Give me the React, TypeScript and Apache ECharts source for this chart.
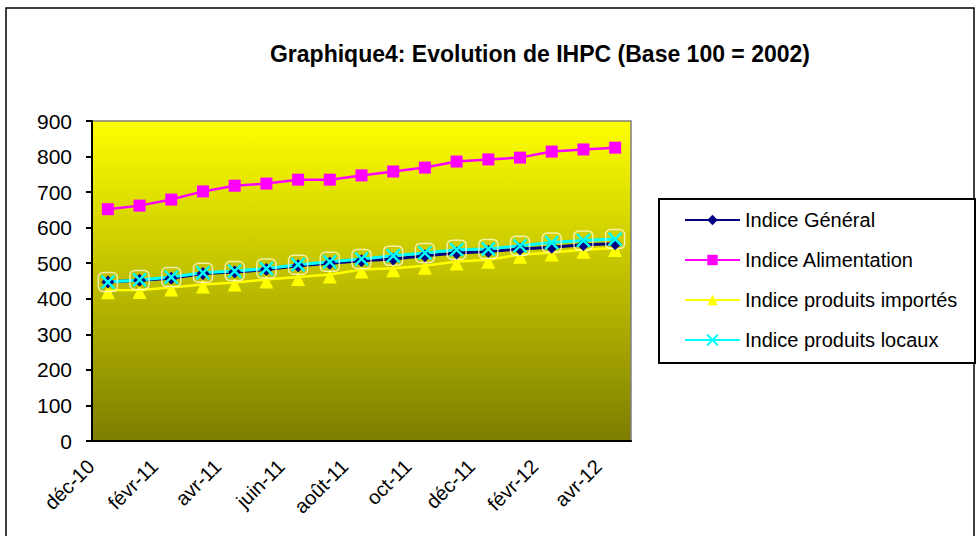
import React, { useEffect, useRef } from "react";
import * as echarts from "echarts";

const categories = [
  "déc-10", "janv-11", "févr-11", "mars-11", "avr-11", "mai-11", "juin-11", "juil-11",
  "août-11", "sept-11", "oct-11", "nov-11", "déc-11", "janv-12", "févr-12", "mars-12", "avr-12",
];
const indiceGeneral = [447, 452, 458, 471, 475, 482, 493, 500, 507, 512, 521, 529, 533, 540, 545, 552, 555];
const indiceAlimentation = [652, 662, 679, 702, 718, 724, 735, 735, 747, 758, 769, 786, 792, 797, 814, 820, 825];
const indiceImportes = [424, 425, 432, 440, 446, 454, 461, 468, 482, 486, 493, 505, 510, 524, 530, 538, 543];
const indiceLocaux = [447, 453, 461, 473, 478, 485, 496, 504, 512, 521, 529, 538, 540, 549, 558, 564, 568];
const yTicks = [0, 100, 200, 300, 400, 500, 600, 700, 800, 900];

const FONT = "'Liberation Sans', Arial, sans-serif";
const CROSS = "path://M0,0L12,12M12,0L0,12";

export default function App() {
  const ref = useRef<HTMLDivElement>(null);
  useEffect(() => {
    if (!ref.current) return;
    const chart = echarts.init(ref.current, null, { renderer: "svg" });
    const names = ["Indice Général", "Indice Alimentation", "Indice produits importés", "Indice produits locaux"];
    chart.setOption({
      animation: false,
      backgroundColor: "#ffffff",
      textStyle: { fontFamily: FONT },
      title: {
        text: "Graphique4: Evolution de IHPC (Base 100 = 2002)",
        left: 535,
        textAlign: "center",
        top: 37,
        textStyle: { fontFamily: FONT, fontSize: 23, fontWeight: "bold", color: "#000" },
      },
      graphic: [
        {
          type: "rect",
          shape: { x: 6, y: 8, width: 968, height: 540 },
          style: { fill: "none", stroke: "#000", lineWidth: 1.5 },
          z: -1,
        },
        {
          type: "rect",
          shape: { x: 659, y: 199, width: 316, height: 164 },
          style: { fill: "#fff", stroke: "#000", lineWidth: 2 },
          z: 0,
        },
      ],
      legend: {
        data: names,
        orient: "vertical",
        left: 684,
        top: 210,
        padding: 0,
        itemWidth: 55,
        itemHeight: 13,
        itemGap: 20,
        textStyle: { fontFamily: FONT, fontSize: 20, color: "#000" },
        z: 5,
      },
      grid: {
        left: 92,
        top: 121,
        width: 539,
        height: 320,
        show: true,
        borderColor: "#808080",
        borderWidth: 1.5,
        backgroundColor: new echarts.graphic.LinearGradient(0, 0, 0, 1, [
          { offset: 0, color: "#FFFF00" },
          { offset: 1, color: "#7D7D00" },
        ]),
      },
      xAxis: {
        type: "category",
        data: categories,
        boundaryGap: true,
        axisLine: { lineStyle: { color: "#000", width: 2 } },
        axisTick: { interval: 1, length: 6, lineStyle: { color: "#000", width: 2 } },
        axisLabel: {
          interval: 1,
          rotate: 45,
          margin: 5,
          padding: [0, 24, 0, 0],
          color: "#000",
          fontSize: 20,
          fontFamily: FONT,
        },
      },
      yAxis: {
        type: "value",
        min: yTicks[0],
        max: yTicks[yTicks.length - 1],
        interval: 100,
        splitLine: { show: false },
        axisLine: { show: true, lineStyle: { color: "#000", width: 2 } },
        axisTick: { show: true, length: 6, lineStyle: { color: "#000", width: 2 } },
        axisLabel: { color: "#000", fontSize: 21, fontFamily: FONT, margin: 20 },
      },
      series: [
        {
          name: names[2],
          type: "line",
          data: indiceImportes,
          symbol: "triangle",
          symbolSize: 14,
          symbolOffset: [0, 2],
          lineStyle: { color: "#FFFF00", width: 2.5 },
          itemStyle: { color: "#FFFF00" },
        },
        {
          name: "frames",
          type: "line",
          data: indiceLocaux,
          symbol: "roundRect",
          symbolSize: 19,
          lineStyle: { width: 0, opacity: 0 },
          itemStyle: { color: "rgba(0,0,0,0)", borderColor: "rgba(255,255,225,0.75)", borderWidth: 1.5 },
          silent: true,
        },
        {
          name: names[0],
          type: "line",
          data: indiceGeneral,
          symbol: "diamond",
          symbolSize: 13,
          lineStyle: { color: "#000080", width: 3 },
          itemStyle: { color: "#000080" },
        },
        {
          name: names[1],
          type: "line",
          data: indiceAlimentation,
          symbol: "rect",
          symbolSize: 12,
          lineStyle: { color: "#FF00FF", width: 2.5 },
          itemStyle: { color: "#FF00FF" },
        },
        {
          name: names[3],
          type: "line",
          data: indiceLocaux,
          symbol: CROSS,
          symbolSize: 13,
          lineStyle: { color: "#00FFFF", width: 3 },
          itemStyle: { color: "rgba(0,0,0,0)", borderColor: "#00FFFF", borderWidth: 2.5 },
        },
      ],
    });
    return () => chart.dispose();
  }, []);
  return (
    <div
      ref={ref}
      style={{ position: "absolute", left: 0, top: 0, width: 979, height: 536 }}
    />
  );
}
